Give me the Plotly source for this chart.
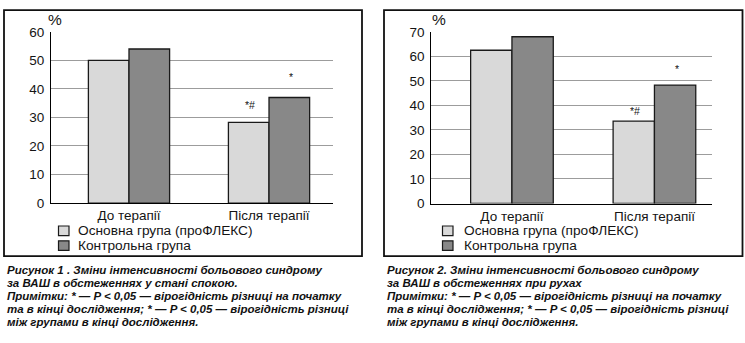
import plotly.graph_objects as go

# Pain intensity (VAS, %) at rest and on movement, before and after therapy
categories = ["До терапії", "Після терапії"]
series_names = ["Основна група (проФЛЕКС)", "Контрольна група"]

rest_main = [50, 28.3]
rest_control = [54, 37]
move_main = [62.5, 33.6]
move_control = [68, 48.3]

rest_ticks = [0, 10, 20, 30, 40, 50, 60]
move_ticks = [0, 10, 20, 30, 40, 50, 60, 70]

# significance marks over the "after therapy" bars
mark_main = "*#"
mark_control = "*"

caption_rest = [
    "Рисунок 1 . Зміни інтенсивності больового синдрому",
    "за ВАШ в обстеженнях у стані спокою.",
    "Примітки: * — P &lt; 0,05 — вірогідність різниці на початку",
    "та в кінці дослідження; * — P &lt; 0,05 — вірогідність різниці",
    "між групами в кінці дослідження.",
]
caption_move = [
    "Рисунок 2. Зміни інтенсивності больового синдрому",
    "за ВАШ в обстеженнях при рухах",
    "Примітки: * — P &lt; 0,05 — вірогідність різниці на початку",
    "та в кінці дослідження; * — P &lt; 0,05 — вірогідність різниці",
    "між групами в кінці дослідження.",
]

W, H = 745, 343
FONT = "Liberation Sans, Arial, sans-serif"
LIGHT = "#d9d9d9"
DARK = "#888888"
EDGE = "#1a1a1a"
TEXT = "#141414"
GRID = "#9c9c9c"
BARGAP = 0.42
COLORS = [LIGHT, DARK]


def px(x):
    return x / W


def py(y):
    return (H - y) / H


fig = go.Figure()

panels = [
    ("x", "y", rest_main, rest_control),
    ("x2", "y2", move_main, move_control),
]
for xa, ya, main_vals, ctrl_vals in panels:
    for name, vals, col in zip(series_names, [main_vals, ctrl_vals], COLORS):
        fig.add_trace(go.Bar(
            x=categories, y=vals, name=name,
            marker=dict(color=col, line=dict(color=EDGE, width=1.3)),
            xaxis=xa, yaxis=ya, showlegend=False,
        ))

tickfont = dict(family=FONT, size=13.5, color=TEXT)

xcommon = dict(type="category", showline=True, linecolor="#000", linewidth=1,
               ticks="", showgrid=False, zeroline=False, tickfont=tickfont,
               fixedrange=True)
ycommon = dict(showline=True, linecolor="#000", linewidth=1, ticks="",
               showgrid=True, gridcolor=GRID, gridwidth=1, zeroline=False,
               tickfont=tickfont, ticklabelstandoff=3, fixedrange=True)

fig.update_layout(
    width=W, height=H,
    margin=dict(l=0, r=0, t=0, b=0),
    paper_bgcolor="white", plot_bgcolor="white",
    barmode="group", bargap=BARGAP, bargroupgap=0,
    xaxis=dict(domain=[px(51), px(333)], range=[-0.557, 1.457], anchor="y", **xcommon),
    yaxis=dict(domain=[py(205), py(26)], range=[0, 60], tickvals=rest_ticks, anchor="x", **ycommon),
    xaxis2=dict(domain=[px(431.3), px(712)], range=[-0.566, 1.404], anchor="y2", **xcommon),
    yaxis2=dict(domain=[py(205.5), py(26)], range=[0, 70], tickvals=move_ticks, anchor="x2", **ycommon),
    showlegend=False,
)

# panel frames
for x0, x1 in [(4, 362), (384, 742.5)]:
    fig.add_shape(type="rect", xref="paper", yref="paper",
                  x0=px(x0), x1=px(x1), y0=py(260.5), y1=py(3.2),
                  line=dict(color="#111", width=1.8), fillcolor="rgba(0,0,0,0)")

# "%" axis unit labels
for xp in (55, 439):
    fig.add_annotation(text="%", xref="paper", yref="paper", x=px(xp), y=py(13),
                       xanchor="center", yanchor="middle", showarrow=False,
                       font=dict(family=FONT, size=15.5, color=TEXT))

# legend keys under each panel
legend_rows = [234, 249.5]
for sq_left, text_left in [(58.5, 76), (442.5, 461.5)]:
    for row, name, col in zip(legend_rows, series_names, COLORS):
        fig.add_shape(type="rect", xref="paper", yref="paper",
                      x0=px(sq_left), x1=px(sq_left + 10.5),
                      y0=py(row + 5), y1=py(row - 5),
                      line=dict(color=EDGE, width=1.2), fillcolor=col)
        fig.add_annotation(text=name, xref="paper", yref="paper",
                           x=px(text_left), y=py(row - 0.5), xanchor="left", yanchor="middle",
                           showarrow=False,
                           font=dict(family=FONT, size=13.7, color=TEXT))

# significance marks above the bars of the second category
half = (1 - BARGAP) / 4
marks = [
    ("x", "y", 1 - half, rest_main[1], mark_main, 9),
    ("x", "y", 1 + half, rest_control[1], mark_control, 12),
    ("x2", "y2", 1 - half, move_main[1], mark_main, 2),
    ("x2", "y2", 1 + half, move_control[1], mark_control, 8),
]
for xa, ya, xv, yv, txt, shift in marks:
    fig.add_annotation(text=txt, xref=xa, yref=ya, x=xv, y=yv, yanchor="bottom",
                       yshift=shift, xshift=1.5, showarrow=False,
                       font=dict(family=FONT, size=10.5, color=TEXT))

# figure captions, one annotation per line
caption_rows = [275, 288.6, 302.2, 315.8, 329.4]
for xp, lines in [(4.5, caption_rest), (385, caption_move)]:
    for row, line in zip(caption_rows, lines):
        fig.add_annotation(text=line, xref="paper", yref="paper", x=px(xp), y=py(row),
                           xanchor="left", yanchor="middle", align="left", showarrow=False,
                           font=dict(family=FONT, size=11.5, color="#111",
                                     weight="bold", style="italic"))

fig.write_html("out.html", config={"displayModeBar": False})
